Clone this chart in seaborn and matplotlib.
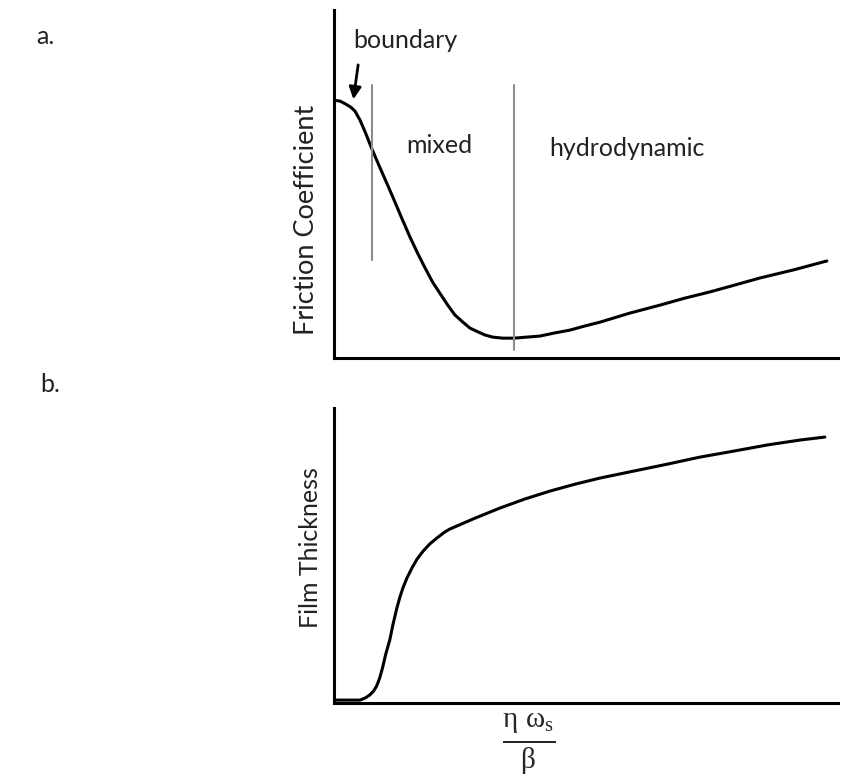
import seaborn as sns
import matplotlib.pyplot as plt
import pandas as pd

# friction curve (Stribeck), arbitrary units 0-100
fric_x = [0, 1.2, 2.4, 3.4, 4.2, 5.2, 6.3, 7.5, 9.1, 10.5, 11.7, 13.3, 15.1, 16.7,
          18.1, 19.6, 21.0, 22.6, 24.0, 25.6, 27.0, 28.6, 30.0, 31.5, 33.5, 35.7,
          38.3, 40.9, 43.8, 46.8, 49.8, 52.8, 58.7, 64.7, 69.6, 74.6, 79.6, 84.5,
          91.1, 97.8]
fric_y = [74.1, 73.9, 73.0, 72.1, 71.0, 68.4, 64.7, 60.3, 54.9, 50.3, 46.3, 40.8,
          34.8, 29.9, 25.9, 21.8, 18.7, 15.2, 12.4, 10.3, 8.6, 7.5, 6.6, 6.0, 5.7,
          5.7, 6.0, 6.3, 7.2, 8.0, 9.2, 10.3, 12.9, 15.2, 17.2, 19.0, 21.0, 23.0,
          25.3, 27.9]

# film thickness curve
film_x = [0.2, 3.2, 5.2, 6.2, 7.1, 7.9, 8.5, 9.1, 9.7, 10.3, 11.1, 11.7, 12.5,
          13.1, 13.7, 14.5, 15.5, 16.5, 17.7, 19.0, 20.4, 22.0, 23.0, 28.0, 32.9,
          37.9, 42.9, 47.8, 52.8, 59.3, 66.1, 72.6, 79.2, 85.9, 92.5, 97.4]
film_y = [1.0, 1.0, 1.0, 1.7, 2.7, 4.1, 5.8, 8.5, 12.2, 16.6, 21.4, 26.4, 32.2,
          35.9, 39.0, 42.4, 45.8, 48.8, 51.5, 53.9, 55.9, 58.0, 59.0, 62.7, 66.1,
          69.2, 71.9, 74.2, 76.3, 78.6, 81.0, 83.4, 85.4, 87.5, 89.2, 90.2]

# regime boundaries: x, y bottom, y top
regime_x = [7.5, 35.7]
regime_ymin = [28.2, 2.3]
regime_ymax = [78.4, 78.4]

regime_labels = ['mixed', 'hydrodynamic']
regime_label_x = [20.9, 58.1]
regime_label_y = [61.2, 60.3]

sns.set_style('white')
plt.rcParams['font.family'] = ['Lato', 'DejaVu Sans']
plt.rcParams['mathtext.default'] = 'regular'

fig = plt.figure(figsize=(8.43, 7.76), dpi=100)
ax1 = fig.add_axes([0.396, 0.5387, 0.598, 0.448])
ax2 = fig.add_axes([0.396, 0.094, 0.598, 0.380])

fric = pd.DataFrame({'x': fric_x, 'y': fric_y})
film = pd.DataFrame({'x': film_x, 'y': film_y})

sns.lineplot(data=fric, x='x', y='y', ax=ax1, color='black', lw=2.2, sort=False)
sns.lineplot(data=film, x='x', y='y', ax=ax2, color='black', lw=2.2, sort=False)

# grey vertical lines between regimes
for x, y0, y1 in zip(regime_x, regime_ymin, regime_ymax):
    ax1.plot([x, x], [y0, y1], color='#8c8c8c', lw=1.5)

for lab, x, y in zip(regime_labels, regime_label_x, regime_label_y):
    ax1.text(x, y, lab, fontsize=18, ha='center', va='center', color='#222222')

ax1.text(14.2, 91.4, 'boundary', fontsize=18, ha='center', va='center', color='#222222')
ax1.annotate('', xy=(3.8, 73.6), xytext=(4.9, 85.1),
             arrowprops=dict(arrowstyle='-|>', color='black', lw=2, mutation_scale=18))

for ax in (ax1, ax2):
    ax.set_xlim(0, 100)
    ax.set_ylim(0, 100)
    ax.set_xticks([])
    ax.set_yticks([])
    ax.set_xlabel('')
    ax.set_ylabel('')
    sns.despine(ax=ax)
    for s in ('left', 'bottom'):
        ax.spines[s].set_color('black')
        ax.spines[s].set_linewidth(2.2)

fig.text(307 / 843, 1 - 220 / 776, 'Friction Coefficient', rotation=90,
         fontsize=19.5, ha='center', va='center', color='#222222')
fig.text(310 / 843, 1 - 548 / 776, 'Film Thickness', rotation=90,
         fontsize=18, ha='center', va='center', color='#222222')

fig.text(36 / 843, 1 - 37 / 776, 'a.', fontsize=18, va='center', color='#222222')
fig.text(40 / 843, 1 - 385 / 776, 'b.', fontsize=18, va='center', color='#222222')

# x axis quantity as a fraction, serif like the original
fig.text(529 / 843, 1 - 744 / 776, r'$\frac{\eta\;\omega_s}{\beta}$',
         fontsize=30, ha='center', va='center', family='Liberation Serif')

fig.savefig('out.png', dpi=100, facecolor='white')
